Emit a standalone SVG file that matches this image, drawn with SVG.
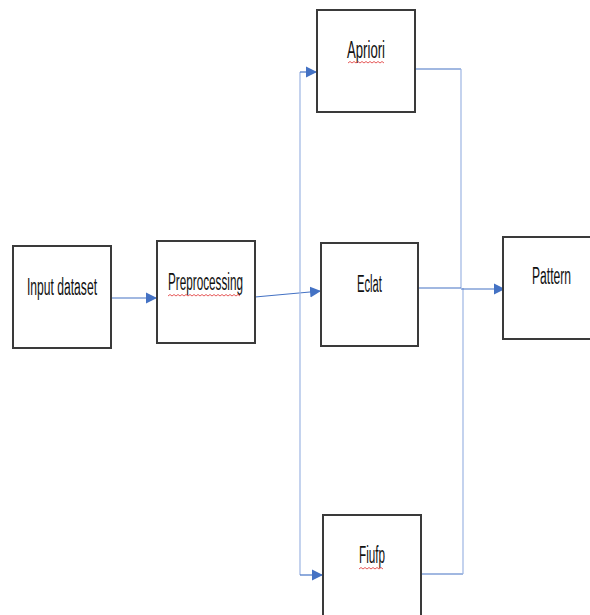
<svg xmlns="http://www.w3.org/2000/svg" width="590" height="615" viewBox="0 0 590 615">
<style>
.box{fill:#fff;stroke:#3a3a3a;stroke-width:2}
.lbl{font-family:"Liberation Sans",Arial,sans-serif;font-size:23px;fill:#111}
.ln{fill:none;stroke:#4472c4;stroke-width:1.2}
.lt{fill:none;stroke:#9db5e3;stroke-width:1.2}
.sq{fill:none;stroke:#e03030;stroke-width:0.8}
</style>
<defs>
<marker id="ah" viewBox="0 0 10 10" refX="10" refY="5" markerWidth="11" markerHeight="12" markerUnits="userSpaceOnUse" orient="auto">
<path d="M0,0 L10,5 L0,10 Z" fill="#4472c4"/>
</marker>
</defs>
<g id="connectors">
<line class="ln" x1="111" y1="298" x2="157" y2="298" marker-end="url(#ah)"/>
<line class="ln" x1="255" y1="297" x2="321" y2="291" marker-end="url(#ah)"/>
<polyline class="lt" points="300,575 300,72"/>
<line class="ln" x1="300" y1="72" x2="317" y2="72" marker-end="url(#ah)"/>
<line class="ln" x1="300" y1="575" x2="323" y2="575" marker-end="url(#ah)"/>
<polyline class="ln" points="415,69 461,69"/>
<polyline class="lt" points="461,69 461,288"/>
<polyline class="ln" points="421,574 463,574"/>
<polyline class="lt" points="463,574 463,288"/>
<polyline class="ln" points="418,288 461,288"/>
<line class="ln" x1="461" y1="289" x2="505" y2="289" marker-end="url(#ah)"/>
</g>
<g id="input-dataset">
<rect class="box" x="13" y="246" width="98" height="102"/>
<text class="lbl" x="27" y="295" textLength="70" lengthAdjust="spacingAndGlyphs">Input dataset</text>
</g>
<g id="preprocessing">
<rect class="box" x="157" y="241" width="98" height="102"/>
<text class="lbl" x="168" y="290" textLength="75" lengthAdjust="spacingAndGlyphs">Preprocessing</text>
<path class="sq" d="M168,296 l2,-1.5 l2,1.5 l2,-1.5 l2,1.5 l2,-1.5 l2,1.5 l2,-1.5 l2,1.5 l2,-1.5 l2,1.5 l2,-1.5 l2,1.5 l2,-1.5 l2,1.5 l2,-1.5 l2,1.5 l2,-1.5 l2,1.5 l2,-1.5 l2,1.5 l2,-1.5 l2,1.5 l2,-1.5 l2,1.5 l2,-1.5 l2,1.5 l2,-1.5 l2,1.5 l2,-1.5 l2,1.5 l2,-1.5 l2,1.5 l2,-1.5 l2,1.5 l2,-1.5 l2,1.5"/>
</g>
<g id="apriori">
<rect class="box" x="317" y="10" width="98" height="102"/>
<text class="lbl" x="347" y="58" textLength="38" lengthAdjust="spacingAndGlyphs">Apriori</text>
<path class="sq" d="M348,63 l2,-1.5 l2,1.5 l2,-1.5 l2,1.5 l2,-1.5 l2,1.5 l2,-1.5 l2,1.5 l2,-1.5 l2,1.5 l2,-1.5 l2,1.5 l2,-1.5 l2,1.5 l2,-1.5 l2,1.5 l2,-1.5 l2,1.5"/>
</g>
<g id="eclat">
<rect class="box" x="321" y="243" width="97" height="103"/>
<text class="lbl" x="357" y="292" textLength="25" lengthAdjust="spacingAndGlyphs">Eclat</text>
</g>
<g id="pattern">
<rect class="box" x="503" y="237" width="90" height="102"/>
<text class="lbl" x="532" y="284" textLength="39" lengthAdjust="spacingAndGlyphs">Pattern</text>
</g>
<g id="fiufp">
<rect class="box" x="323" y="515" width="98" height="110"/>
<text class="lbl" x="359" y="563" textLength="26" lengthAdjust="spacingAndGlyphs">Fiufp</text>
<path class="sq" d="M359,569 l2,-1.5 l2,1.5 l2,-1.5 l2,1.5 l2,-1.5 l2,1.5 l2,-1.5 l2,1.5 l2,-1.5 l2,1.5 l2,-1.5 l2,1.5"/>
</g>
</svg>
